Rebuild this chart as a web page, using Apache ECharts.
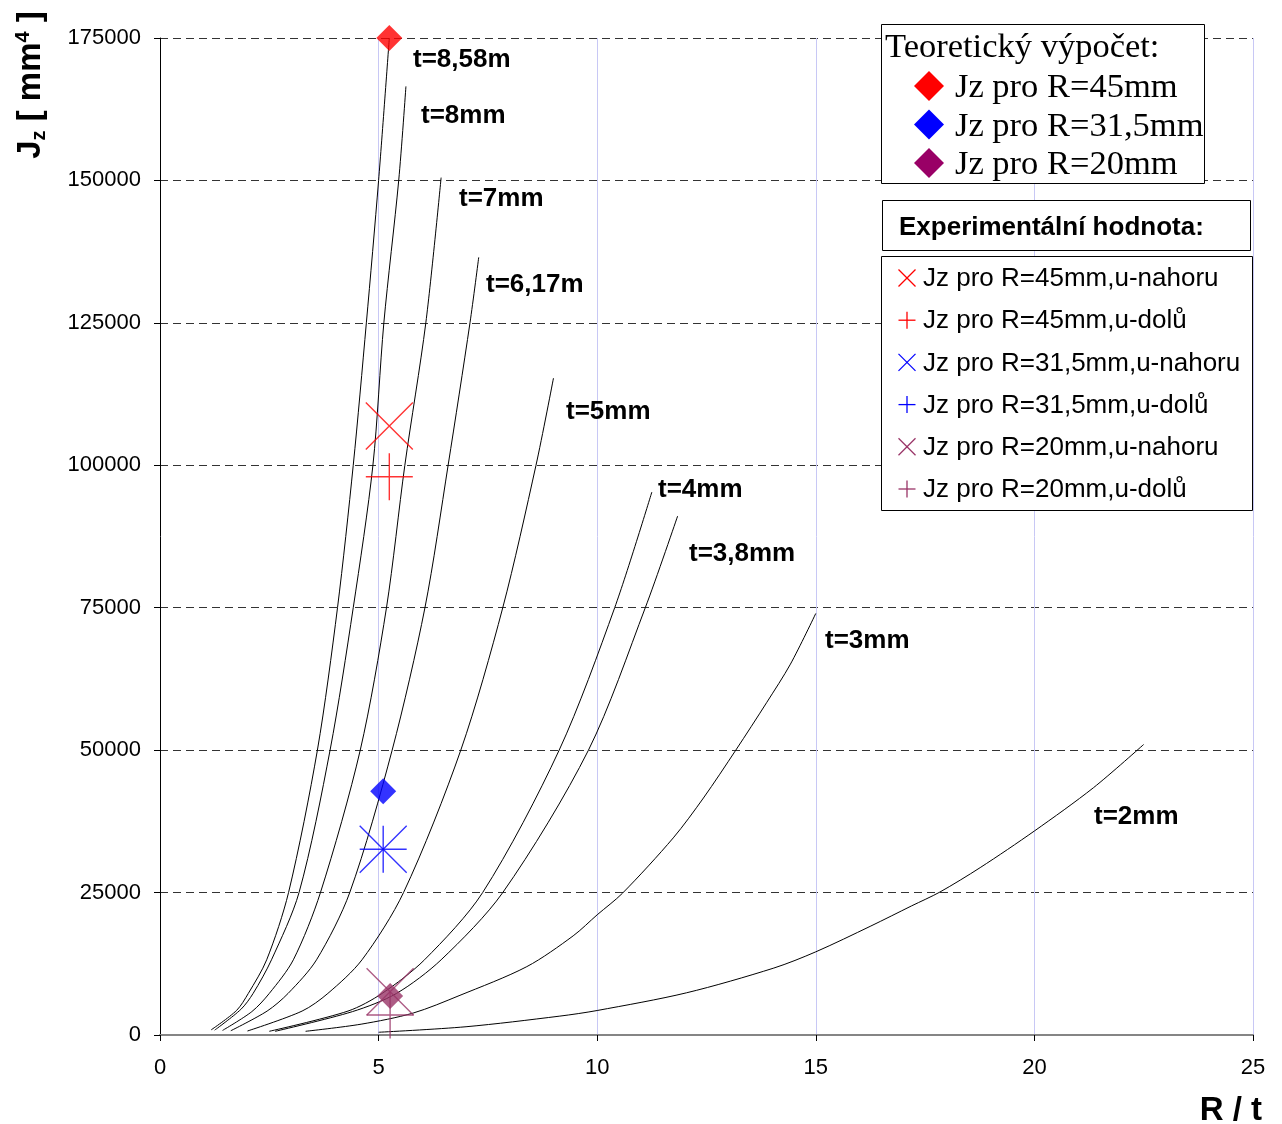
<!DOCTYPE html>
<html>
<head>
<meta charset="utf-8">
<title>Jz vs R/t</title>
<script src="https://cdn.jsdelivr.net/npm/echarts@6/dist/echarts.min.js"></script>
<style>
  html, body { margin: 0; padding: 0; background: #ffffff; }
  #chart { width: 1282px; height: 1124px; }
</style>
</head>
<body>
<div id="chart"></div>
<script>
// ---- Theoretical curves: R/t (x) and Jz [mm^4] (y) for each wall thickness t ----
const rt_858 = [1.17, 1.75, 2.02, 2.44, 2.94, 3.60, 4.06, 4.42, 4.72, 5.00, 5.245];
const jz_858 = [900, 4300, 7300, 13200, 25000, 50000, 75000, 100000, 125000, 150000, 175000];

const rt_8 = [1.25, 1.85, 2.13, 2.55, 3.18, 3.89, 4.42, 4.87, 5.12, 5.46, 5.625];
const jz_8 = [850, 4500, 7300, 13200, 25000, 50000, 75000, 100000, 125000, 150000, 166500];

const rt_7 = [1.43, 2.10, 2.50, 3.05, 3.67, 4.58, 5.18, 5.60, 6.08, 6.43];
const jz_7 = [800, 4100, 7300, 13200, 25000, 50000, 75000, 100000, 125000, 150500];

const rt_617 = [1.62, 2.45, 2.93, 3.58, 4.34, 5.31, 6.06, 6.59, 7.09, 7.29];
const jz_617 = [750, 4200, 7300, 13200, 25000, 50000, 75000, 100000, 125000, 136500];

const rt_5 = [2.00, 3.25, 3.84, 4.62, 5.57, 6.88, 7.84, 8.60, 9.00];
const jz_5 = [700, 4200, 7300, 13200, 25000, 50000, 75000, 100000, 115300];

const rt_4 = [2.50, 4.30, 5.08, 6.05, 7.38, 9.13, 10.40, 11.25];
const jz_4 = [650, 4200, 7300, 13200, 25000, 50000, 75000, 95300];

const rt_38 = [2.63, 4.40, 5.41, 6.43, 7.84, 9.80, 11.10, 11.84];
const jz_38 = [640, 4100, 7300, 13200, 25000, 50000, 75000, 91100];

const rt_3 = [3.33, 4.60, 5.79, 6.84, 8.39, 9.45, 10.00, 10.58, 11.74, 12.43, 13.17, 13.88, 14.42, 15.00];
const jz_3 = [650, 1900, 3850, 6900, 12000, 17400, 21100, 24900, 34600, 41600, 50000, 58400, 65100, 74000];

const rt_2 = [5.00, 7.00, 9.13, 10.00, 12.04, 14.04, 15.00, 16.26, 17.19, 17.84, 18.76, 20.00, 21.35, 22.50];
const jz_2 = [480, 1450, 3300, 4300, 7400, 11750, 14600, 19130, 22660, 25100, 29380, 35810, 43400, 51000];

const curveNames = ['t=8,58m', 't=8mm', 't=7mm', 't=6,17m', 't=5mm', 't=4mm', 't=3,8mm', 't=3mm', 't=2mm'];

// ---- Theoretical points (diamonds) ----
const theoR45 = [[5.245, 175000]];
const theoR315 = [[5.105, 42800]];
const theoR20 = [[5.263, 6850]];

// ---- Experimental values ----
const expR45up = [[5.245, 106900]];
const expR45down = [[5.245, 98000]];
const expR315up = [[5.105, 32600]];
const expR315down = [[5.105, 32600]];
const expR20up = [[5.263, 7600]];
const expR20down = [[5.263, 3500]];

// ---- Axes ----
const xTicks = [0, 5, 10, 15, 20, 25];
const yTicks = [0, 25000, 50000, 75000, 100000, 125000, 150000, 175000];

// ---- Legend texts ----
const theoLegendTitle = 'Teoretický výpočet:';
const theoLegendItems = ['Jz pro R=45mm', 'Jz pro R=31,5mm', 'Jz pro R=20mm'];
const expLegendTitle = 'Experimentální hodnota:';
const expLegendItems = [
  'Jz pro R=45mm,u-nahoru', 'Jz pro R=45mm,u-dolů',
  'Jz pro R=31,5mm,u-nahoru', 'Jz pro R=31,5mm,u-dolů',
  'Jz pro R=20mm,u-nahoru', 'Jz pro R=20mm,u-dolů'
];

const RED = '#ff0000', BLUE = '#0000ff', PURPLE = '#993366';
const SANS = '"Liberation Sans", Arial, sans-serif';
const SERIF = '"Liberation Serif", "Times New Roman", serif';

const pairs = (xs, ys) => xs.map((x, i) => [x, ys[i]]);
const curves = [
  pairs(rt_858, jz_858), pairs(rt_8, jz_8), pairs(rt_7, jz_7), pairs(rt_617, jz_617),
  pairs(rt_5, jz_5), pairs(rt_4, jz_4), pairs(rt_38, jz_38), pairs(rt_3, jz_3), pairs(rt_2, jz_2)
];

const CROSS = 'path://M0,0L10,10M10,0L0,10';
const PLUS = 'path://M5,0L5,10M0,5L10,5';

const series = [];
curves.forEach((d, i) => {
  series.push({
    name: curveNames[i],
    type: 'line',
    data: d,
    smooth: 0.3,
    showSymbol: false,
    silent: true,
    lineStyle: { color: '#000', width: 1 },
    z: 3
  });
});

function markerSeries(name, data, symbol, size, color, stroke) {
  return {
    name: name,
    type: 'scatter',
    data: data,
    symbol: symbol,
    symbolSize: size,
    silent: true,
    clip: false,
    z: 5,
    itemStyle: stroke
      ? { color: 'rgba(0,0,0,0)', borderColor: color, borderWidth: 1.4 }
      : { color: color }
  };
}
series.push(markerSeries('u-nahoru R45', expR45up, CROSS, 47, RED, true));
series.push(markerSeries('u-dolu R45', expR45down, PLUS, 47, RED, true));
series.push(markerSeries('u-nahoru R31,5', expR315up, CROSS, 47, BLUE, true));
series.push(markerSeries('u-dolu R31,5', expR315down, PLUS, 47, BLUE, true));
series.push(markerSeries('u-nahoru R20', expR20up, CROSS, 47, PURPLE, true));
series.push(markerSeries('u-dolu R20', expR20down, PLUS, 47, PURPLE, true));
series.push(markerSeries('R45', theoR45, 'diamond', 26, RED, false));
series.push(markerSeries('R31,5', theoR315, 'diamond', 26, BLUE, false));
series.push(markerSeries('R20', theoR20, 'diamond', 26, PURPLE, false));

// ---- Decorations: curve labels, legends, axis titles ----
const labelPos = [
  [413, 60], [421, 116], [459, 199], [486, 285], [566, 412],
  [658, 490], [689, 554], [825, 641], [1094, 817]
];
const graphics = [];
curveNames.forEach((t, i) => {
  graphics.push({
    type: 'text', x: labelPos[i][0], y: labelPos[i][1], z: 10,
    style: { text: t, font: 'bold 26px ' + SANS, fill: '#000',
             align: 'left', verticalAlign: 'middle', textAlign: 'left', textVerticalAlign: 'middle' }
  });
});

// theoretical legend box
graphics.push({ type: 'rect', z: 20, shape: { x: 881.5, y: 24.5, width: 323, height: 159 },
  style: { fill: '#fff', stroke: '#000', lineWidth: 1 } });
graphics.push({ type: 'text', z: 21, x: 885, y: 48,
  style: { text: theoLegendTitle, font: '34.5px ' + SERIF, fill: '#000',
           align: 'left', verticalAlign: 'middle', textAlign: 'left', textVerticalAlign: 'middle' } });
const theoColors = [RED, BLUE, '#990066'];
theoLegendItems.forEach((t, i) => {
  const cy = 86 + i * 38.5;
  graphics.push({ type: 'polygon', z: 21,
    shape: { points: [[929, cy - 15], [944, cy], [929, cy + 15], [914, cy]] },
    style: { fill: theoColors[i] } });
  graphics.push({ type: 'text', z: 21, x: 955, y: cy + 2,
    style: { text: t, font: '34.5px ' + SERIF, fill: '#000',
             align: 'left', verticalAlign: 'middle', textAlign: 'left', textVerticalAlign: 'middle' } });
});

// experimental legend header
graphics.push({ type: 'rect', z: 20, shape: { x: 882.5, y: 200.5, width: 368, height: 50 },
  style: { fill: '#fff', stroke: '#000', lineWidth: 1 } });
graphics.push({ type: 'text', z: 21, x: 899, y: 228,
  style: { text: expLegendTitle, font: 'bold 26px ' + SANS, fill: '#000',
           align: 'left', verticalAlign: 'middle', textAlign: 'left', textVerticalAlign: 'middle' } });

// experimental legend items
graphics.push({ type: 'rect', z: 20, shape: { x: 881.5, y: 256.5, width: 371, height: 254 },
  style: { fill: '#fff', stroke: '#000', lineWidth: 1 } });
const expColors = [RED, RED, BLUE, BLUE, PURPLE, PURPLE];
expLegendItems.forEach((t, i) => {
  const cy = 278 + i * 42.2;
  const cx = 907, h = 8.5;
  const c = expColors[i];
  if (i % 2 === 0) {
    graphics.push({ type: 'line', z: 21, shape: { x1: cx - h, y1: cy - h, x2: cx + h, y2: cy + h }, style: { stroke: c, lineWidth: 1.3 } });
    graphics.push({ type: 'line', z: 21, shape: { x1: cx - h, y1: cy + h, x2: cx + h, y2: cy - h }, style: { stroke: c, lineWidth: 1.3 } });
  } else {
    graphics.push({ type: 'line', z: 21, shape: { x1: cx, y1: cy - h, x2: cx, y2: cy + h }, style: { stroke: c, lineWidth: 1.3 } });
    graphics.push({ type: 'line', z: 21, shape: { x1: cx - h, y1: cy, x2: cx + h, y2: cy }, style: { stroke: c, lineWidth: 1.3 } });
  }
  graphics.push({ type: 'text', z: 21, x: 923, y: cy + 1,
    style: { text: t, font: '26px ' + SANS, fill: '#000',
             align: 'left', verticalAlign: 'middle', textAlign: 'left', textVerticalAlign: 'middle' } });
});

// axis titles
graphics.push({ type: 'text', z: 10, x: 1262, y: 1111,
  style: { text: 'R / t', font: 'bold 33px ' + SANS, fill: '#000',
           align: 'right', verticalAlign: 'middle', textAlign: 'right', textVerticalAlign: 'middle' } });
graphics.push({ type: 'text', z: 10, x: 31, y: 85, rotation: Math.PI / 2,
  style: {
    text: '{a|J}{b|z}{a| [ mm}{c|4}{a| ]}',
    align: 'center', verticalAlign: 'middle', textAlign: 'center', textVerticalAlign: 'middle',
    rich: {
      a: { font: 'bold 33px ' + SANS, fill: '#000', lineHeight: 36 },
      b: { font: 'bold 20px ' + SANS, fill: '#000', lineHeight: 20, verticalAlign: 'bottom' },
      c: { font: 'bold 20px ' + SANS, fill: '#000', lineHeight: 20, verticalAlign: 'top' }
    }
  } });

const chart = echarts.init(document.getElementById('chart'), null, { renderer: 'canvas' });
chart.setOption({
  animation: false,
  backgroundColor: '#ffffff',
  grid: { left: 160, right: 29, top: 38, bottom: 89, containLabel: false },
  xAxis: {
    type: 'value', min: xTicks[0], max: xTicks[xTicks.length - 1], interval: 5,
    axisLine: { show: true, onZero: false, lineStyle: { color: '#858585', width: 2 } },
    axisTick: { show: true, length: 6, lineStyle: { color: '#000', width: 1 } },
    axisLabel: { margin: 22, color: '#000', fontFamily: SANS, fontSize: 22,
                 formatter: v => String(v) },
    splitLine: { show: true, lineStyle: { color: '#c8c8f5', width: 1 } }
  },
  yAxis: {
    type: 'value', min: yTicks[0], max: yTicks[yTicks.length - 1], interval: 25000,
    axisLine: { show: true, onZero: false, lineStyle: { color: '#000', width: 1 } },
    axisTick: { show: true, length: 6, lineStyle: { color: '#000', width: 1 } },
    axisLabel: { margin: 19, color: '#000', fontFamily: SANS, fontSize: 22,
                 padding: [4, 0, 0, 0], formatter: v => String(v) },
    splitLine: { show: true, lineStyle: { color: '#333', width: 1, type: [8, 5] } }
  },
  series: series,
  graphic: graphics
});
</script>
</body>
</html>
